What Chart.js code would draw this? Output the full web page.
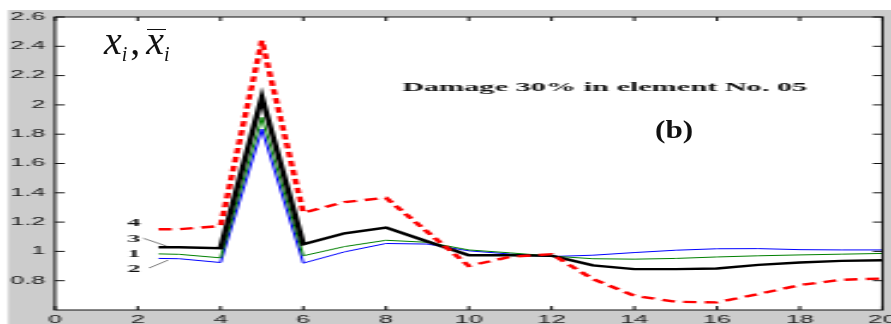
<!DOCTYPE html>
<html lang="en">
<head>
    <meta charset="UTF-8">
    <title>Damage 30% in element No. 05</title>
    <script src="https://cdn.jsdelivr.net/npm/chart.js"></script>
    <style>
        body {
            margin: 0;
            background: #fff;
            width: 891px;
            height: 324px;
            overflow: hidden;
            position: relative;
        }

        /* the plot is drawn narrow and widened, like the old matlab export */
        #wrap {
            position: absolute;
            left: 0;
            top: 0;
            width: 371px;
            height: 324px;
            transform: scaleX(2.40162);
            transform-origin: 0 0;
        }

        #wrap canvas {
            display: block;
        }

        #sym {
            position: absolute;
            left: 104px;
            top: 21px;
            font-family: "Liberation Serif", "DejaVu Serif", serif;
            font-style: italic;
            font-weight: normal;
            font-size: 40px;
            line-height: 40px;
            color: #111;
            white-space: nowrap;
            font-synthesis: style;
        }

        #sym i {
            font-family: "Liberation Serif", "DejaVu Serif", serif;
            font-style: italic;
        }

        #sym sub {
            font-size: 20px;
            line-height: 0;
            vertical-align: -7px;
        }

        #sym .comma {
            font-style: normal;
            margin-left: 3px;
            margin-right: 6px;
        }

        #sym .bar {
            position: relative;
        }

        #sym .bar::after {
            content: '';
            position: absolute;
            left: 1px;
            right: -2px;
            top: 11px;
            border-top: 1.5px solid #111;
        }

        #tag {
            position: absolute;
            left: 655px;
            top: 117px;
            font-family: "Liberation Serif", "DejaVu Serif", serif;
            font-weight: bold;
            font-size: 26px;
            line-height: 26px;
            color: #111;
            transform: scaleX(1.2);
            transform-origin: 0 0;
        }
    </style>
</head>
<body>
    <div id="wrap"><canvas id="chart" width="371" height="324"></canvas></div>
    <div id="sym"><i>x</i><sub>i</sub><span class="comma">,</span><span class="bar"><i>x</i></span><sub>i</sub></div>
    <div id="tag">(b)</div>
    <script>
        const STRETCH = 891 / 371;

        // element positions along the beam
        const xValues = [2.5, 3, 4, 5, 6, 7, 8, 9, 10, 11, 12, 13, 14, 15, 16, 17, 18, 19, 20];

        // curve 1 (green), 2 (blue), 3 (black), 4 (red dashed)
        const curve1 = [0.983, 0.980, 0.956, 1.915, 0.970, 1.033, 1.076, 1.062, 1.010, 0.990, 0.968, 0.950, 0.947, 0.952, 0.962, 0.970, 0.976, 0.981, 0.986];
        const curve2 = [0.952, 0.950, 0.924, 1.835, 0.920, 0.997, 1.054, 1.050, 1.004, 0.982, 0.965, 0.974, 0.992, 1.008, 1.018, 1.019, 1.012, 1.010, 1.010];
        const curve3 = [1.028, 1.028, 1.022, 2.052, 1.049, 1.124, 1.162, 1.068, 0.974, 0.974, 0.970, 0.905, 0.879, 0.879, 0.883, 0.908, 0.924, 0.935, 0.940];
        const curve4 = [1.151, 1.152, 1.173, 2.438, 1.264, 1.337, 1.366, 1.133, 0.901, 0.963, 0.981, 0.812, 0.697, 0.656, 0.652, 0.709, 0.770, 0.806, 0.815];

        const xTickValues = [0, 2, 4, 6, 8, 10, 12, 14, 16, 18, 20];
        const yTickValues = [0.8, 1, 1.2, 1.4, 1.6, 1.8, 2, 2.2, 2.4, 2.6];

        // curve numbers next to the start of the lines: [text, x, y]
        const curveLabels = [
            ['4', 2.06, 1.171],
            ['3', 2.06, 1.063],
            ['1', 2.06, 0.961],
            ['2', 2.06, 0.859]
        ];
        // leader lines from the numbers 3 and 2
        const leaders = [
            [2.13, 1.09, 2.71, 1.035],
            [2.27, 0.886, 2.73, 0.94]
        ];

        const toPoints = ys => ys.map((y, i) => ({ x: xValues[i], y: y }));

        const tickFont = { family: '"Liberation Sans", Arial, sans-serif', size: 10.5 };

        // gray figure, white axes box, inward ticks, notes
        const framePlugin = {
            id: 'frame',
            beforeDraw(chart) {
                const { ctx, width, height, chartArea: a } = chart;
                ctx.save();
                ctx.fillStyle = '#ffffff';
                ctx.fillRect(0, 0, width, height);
                ctx.fillStyle = '#cccccc';
                ctx.fillRect(8 / STRETCH, 10, width, height);
                ctx.fillStyle = '#ffffff';
                ctx.fillRect(a.left, a.top, a.right - a.left, a.bottom - a.top);
                ctx.restore();
            },
            afterDatasetsDraw(chart) {
                const { ctx, scales: { x, y } } = chart;
                ctx.save();
                ctx.fillStyle = '#111';
                ctx.textBaseline = 'alphabetic';

                ctx.font = 'bold 12.6px "Liberation Serif", "Times New Roman", serif';
                ctx.textAlign = 'left';
                ctx.fillText('Damage 30% in element No. 05', x.getPixelForValue(8.39), y.getPixelForValue(2.092));

                ctx.font = 'bold 11px "Liberation Serif", "Times New Roman", serif';
                ctx.textAlign = 'right';
                curveLabels.forEach(([t, vx, vy]) => {
                    ctx.fillText(t, x.getPixelForValue(vx), y.getPixelForValue(vy));
                });

                ctx.strokeStyle = '#222';
                ctx.lineWidth = 0.6;
                leaders.forEach(([x0, y0, x1, y1]) => {
                    ctx.beginPath();
                    ctx.moveTo(x.getPixelForValue(x0), y.getPixelForValue(y0));
                    ctx.lineTo(x.getPixelForValue(x1), y.getPixelForValue(y1));
                    ctx.stroke();
                });
                ctx.restore();
            },
            afterDraw(chart) {
                const { ctx, chartArea: a, scales: { x, y } } = chart;
                const len = 4;
                ctx.save();
                ctx.strokeStyle = '#111';
                ctx.lineWidth = 1;
                ctx.strokeRect(a.left, a.top, a.right - a.left, a.bottom - a.top);
                ctx.beginPath();
                x.ticks.forEach(t => {
                    const px = x.getPixelForValue(t.value);
                    ctx.moveTo(px, a.top);
                    ctx.lineTo(px, a.top + len);
                    ctx.moveTo(px, a.bottom);
                    ctx.lineTo(px, a.bottom - len);
                });
                y.ticks.forEach(t => {
                    const py = y.getPixelForValue(t.value);
                    ctx.moveTo(a.left, py);
                    ctx.lineTo(a.left + len, py);
                    ctx.moveTo(a.right, py);
                    ctx.lineTo(a.right - len, py);
                });
                ctx.stroke();
                ctx.restore();
            }
        };

        const ctx = document.getElementById('chart').getContext('2d');
        new Chart(ctx, {
            type: 'line',
            data: {
                datasets: [
                    {
                        label: '4',
                        data: toPoints(curve4),
                        borderColor: '#ff0000',
                        borderWidth: 2.4,
                        borderDash: [5.5, 3.5]
                    },
                    {
                        label: '3',
                        data: toPoints(curve3),
                        borderColor: '#000000',
                        borderWidth: 2.4
                    },
                    {
                        label: '1',
                        data: toPoints(curve1),
                        borderColor: '#008000',
                        borderWidth: 1
                    },
                    {
                        label: '2',
                        data: toPoints(curve2),
                        borderColor: '#0000ff',
                        borderWidth: 1
                    }
                ]
            },
            options: {
                responsive: false,
                animation: false,
                devicePixelRatio: 1,
                layout: {
                    padding: { top: 17, right: 371 - 882.5 / STRETCH, left: 0, bottom: 0 }
                },
                elements: {
                    line: { tension: 0, fill: false, borderJoinStyle: 'miter', borderCapStyle: 'butt' },
                    point: { radius: 0 }
                },
                plugins: {
                    legend: { display: false },
                    tooltip: { enabled: false }
                },
                scales: {
                    x: {
                        type: 'linear',
                        min: 0,
                        max: 20,
                        afterBuildTicks: s => { s.ticks = xTickValues.map(v => ({ value: v })); },
                        afterFit: s => { s.height = 14; s.paddingLeft = 0; s.paddingRight = 0; },
                        grid: { display: false, drawTicks: false },
                        border: { display: false },
                        ticks: { padding: 4, font: tickFont, color: '#1a1a1a', maxRotation: 0, autoSkip: false }
                    },
                    y: {
                        type: 'linear',
                        min: 0.6,
                        max: 2.6,
                        afterBuildTicks: s => { s.ticks = yTickValues.map(v => ({ value: v })); },
                        afterFit: s => { s.width = 55 / STRETCH; s.paddingTop = 0; s.paddingBottom = 0; },
                        grid: { display: false, drawTicks: false },
                        border: { display: false },
                        ticks: {
                            padding: 4,
                            font: tickFont,
                            color: '#1a1a1a',
                            autoSkip: false,
                            callback: v => String(+v.toFixed(1))
                        }
                    }
                }
            },
            plugins: [framePlugin]
        });
    </script>
</body>
</html>
